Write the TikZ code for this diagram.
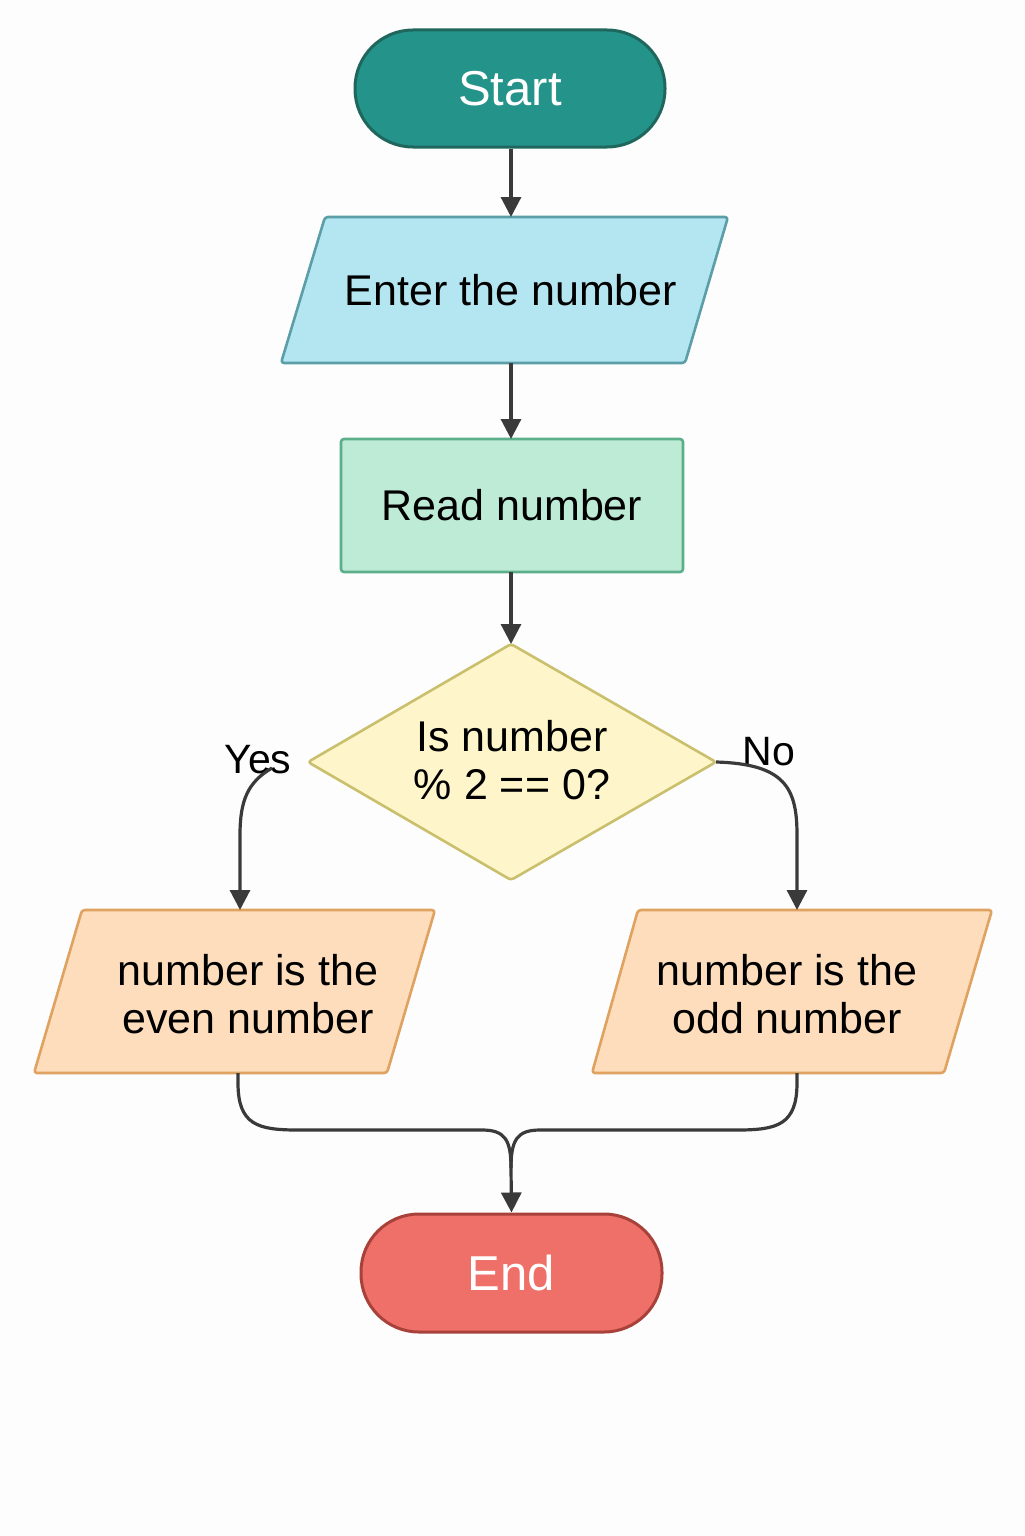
\documentclass[tikz,border=0pt]{standalone}
\usepackage{fontspec}
\setmainfont{Liberation Sans}
\usetikzlibrary{arrows.meta}
\definecolor{bgc}{HTML}{FDFDFD}
\definecolor{linec}{HTML}{3A3A3A}
\definecolor{startfill}{HTML}{24938A}
\definecolor{startdraw}{HTML}{1F665D}
\definecolor{enterfill}{HTML}{B3E6F0}
\definecolor{enterdraw}{HTML}{5B9EA8}
\definecolor{readfill}{HTML}{BDEBD5}
\definecolor{readdraw}{HTML}{5BAF8B}
\definecolor{decfill}{HTML}{FEF6CA}
\definecolor{decdraw}{HTML}{C9BF6C}
\definecolor{outfill}{HTML}{FDDDBC}
\definecolor{outdraw}{HTML}{DFA260}
\definecolor{endfill}{HTML}{EE7068}
\definecolor{enddraw}{HTML}{A8413A}
\begin{document}
\begin{tikzpicture}[x=0.5pt,y=-0.5pt,
  terminal/.style={rectangle, rounded corners=29pt, line width=1.5pt, text=white,
    font=\fontsize{24.5}{28}\selectfont, inner sep=0pt},
  shapeline/.style={line width=1.3pt, rounded corners=1.5pt, line join=round},
  bodytext/.style={font=\fontsize{21.5}{24}\selectfont, align=center, inner sep=0pt, text=black},
  lbl/.style={font=\fontsize{20.5}{22}\selectfont, inner sep=0pt, text=black},
  conn/.style={draw=linec, line width=1.6pt, -{Triangle[length=10pt,width=10pt]}},
  connplain/.style={draw=linec, line width=1.6pt}]
\useasboundingbox (0,0) rectangle (1024,1536);
\fill[bgc] (0,0) rectangle (1024,1536);

% Start
\node[terminal, fill=startfill, draw=startdraw, minimum width=155pt, minimum height=58.5pt] (start) at (510,88.5) {Start};

% Enter the number
\draw[shapeline, fill=enterfill, draw=enterdraw] (325,217) -- (728,217) -- (685,363) -- (281,363) -- cycle;
\node[bodytext] (enter) at (511,290) {Enter the number};
\coordinate (enterN) at (511,217);
\coordinate (enterS) at (511,363);

% Read number
\node[rectangle, rounded corners=1.5pt, line width=1.3pt, fill=readfill, draw=readdraw,
  minimum width=171pt, minimum height=66.5pt, inner sep=0pt, bodytext] (read) at (512,505.5) {Read number};
\coordinate (readN) at (511,439);
\coordinate (readS) at (511,572);

% Decision
\draw[shapeline, fill=decfill, draw=decdraw] (511,644) -- (716,762) -- (511,880) -- (308,762) -- cycle;
\node[bodytext] (dec) at (512,760) {Is number\\\% 2 == 0?};
\coordinate (decN) at (511,644);
\coordinate (decE) at (716,762);
\coordinate (yesStart) at (272,768);

\node[lbl] (yes) at (258,760) {Yes};
\node[lbl] (no) at (769,752) {No};

% Outputs
\draw[shapeline, fill=outfill, draw=outdraw] (82,910) -- (435,910) -- (387,1073) -- (34,1073) -- cycle;
\node[bodytext] (even) at (248,994) {number is the\\even number};
\coordinate (evenN) at (240,910);
\coordinate (evenS) at (238,1073);

\draw[shapeline, fill=outfill, draw=outdraw] (638,910) -- (992,910) -- (944,1073) -- (592,1073) -- cycle;
\node[bodytext] (odd) at (787,994) {number is the\\odd number};
\coordinate (oddN) at (797,910);
\coordinate (oddS) at (797,1073);

% End
\node[terminal, fill=endfill, draw=enddraw, minimum width=150.5pt, minimum height=59pt] (end) at (511.5,1273) {End};
\coordinate (merge) at (511,1168);

% Connectors
\draw[conn] (start.south -| enterN) -- (enterN);
\draw[conn] (enterS) -- (readN);
\draw[conn] (readS) -- (decN);
\draw[conn] (yesStart) .. controls (248,782) and (240,800) .. (240,835) -- (evenN);
\draw[conn] (decE) .. controls (785,764) and (797,788) .. (797,835) -- (oddN);
\draw[connplain] (evenS) -- (238,1083) .. controls (238,1125) and (258,1130) .. (298,1130)
  -- (482,1130) .. controls (505,1130) and (511,1140) .. (merge);
\draw[connplain] (oddS) -- (797,1083) .. controls (797,1125) and (777,1130) .. (737,1130)
  -- (540,1130) .. controls (517,1130) and (511,1140) .. (merge);
\draw[conn] (merge) -- (end.north);
\end{tikzpicture}
\end{document}
